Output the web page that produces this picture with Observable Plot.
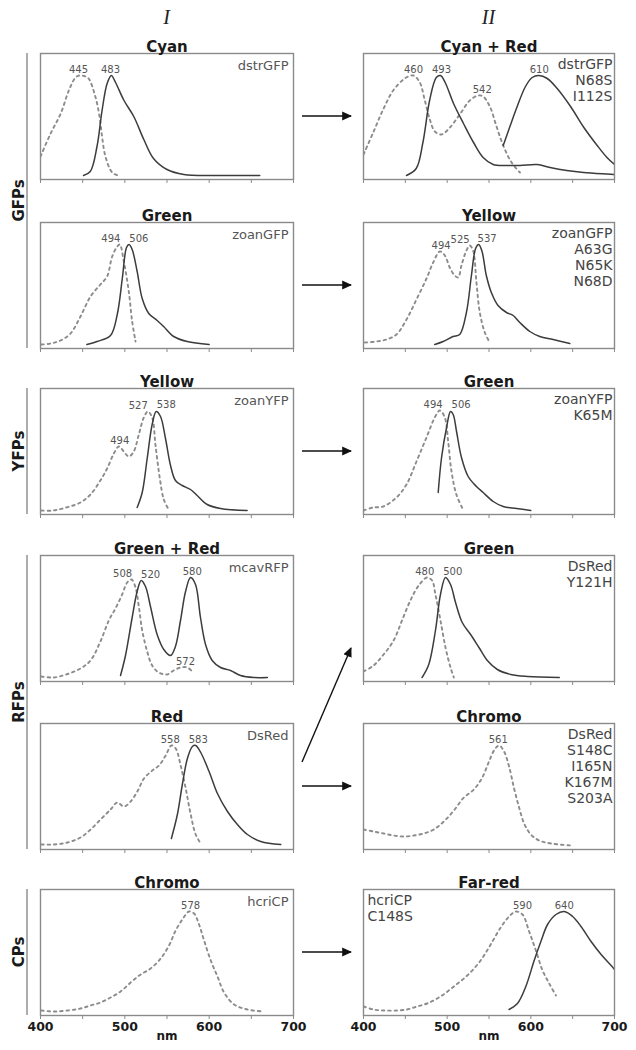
<!DOCTYPE html>
<html><head><meta charset="utf-8">
<script src="https://cdn.jsdelivr.net/npm/d3@7"></script>
<script src="https://cdn.jsdelivr.net/npm/@observablehq/plot@0.6"></script>
<style>
body{margin:0;background:#fff;}
#root{position:relative;width:636px;height:1050px;font-family:"DejaVu Sans",sans-serif;overflow:hidden;}
#root > svg{position:absolute;margin:0;}
</style></head><body><div id="root"></div>
<script>
// ---------- DATA ----------
const columnHeaders = ["I", "II"];
const groupNames = ["GFPs", "YFPs", "RFPs", "CPs"];
const groupRowSpans = [[0, 1], [2, 2], [3, 4], [5, 5]];
const titles = ["Cyan", "Cyan + Red", "Green", "Yellow", "Yellow", "Green",
  "Green + Red", "Green", "Red", "Chromo", "Chromo", "Far-red"];
const proteins = ["dstrGFP", "dstrGFP\nN68S\nI112S", "zoanGFP", "zoanGFP\nA63G\nN65K\nN68D",
  "zoanYFP", "zoanYFP\nK65M", "mcavRFP", "DsRed\nY121H", "DsRed",
  "DsRed\nS148C\nI165N\nK167M\nS203A", "hcriCP", "hcriCP\nC148S"];
const tickValues = [400, 450, 500, 550, 600, 650, 700];
const tickLabels = [400, 500, 600, 700];
const xUnit = "nm";
// arrows: [fromPanel, toPanel]
const arrows = [[0, 1], [2, 3], [4, 5], [8, 7], [8, 9], [10, 11]];

// excitation (dashed) spectra, [nm, normalized]
const exCyan = [[400,.19],[412,.42],[424,.62],[433.6,.85],[441.5,.98],[446,1],[452,.995],[457,.97],[465,.79],[470,.59],[473,.39],[477,.19],[485,.03],[492,0]];
const exCyanRed = [[400,.21],[411.6,.43],[423.5,.66],[435.5,.85],[449.4,.97],[459.4,1],[467.3,.93],[473.3,.75],[479.3,.56],[485.3,.44],[493.3,.41],[503.3,.48],[515,.61],[527,.75],[537,.80],[543,.79],[551,.69],[559,.49],[567,.30],[577,.13],[587,.03]];
const exGreen1 = [[401,0],[412,.01],[423.7,.04],[435.6,.11],[447.4,.28],[459.3,.48],[471,.60],[479,.68],[485,.88],[491,.98],[494,1],[498.8,.83],[504.7,.53],[508.7,.23],[512.7,.03]];
const exYellow1 = [[401.6,.02],[415.5,.03],[427.5,.05],[439.4,.10],[451.4,.25],[463.3,.45],[475.3,.66],[483.3,.82],[491.2,.93],[497.2,.89],[503.1,.77],[509,.69],[513.2,.67],[517.1,.79],[523,.94],[527,.99],[531,.94],[535,.62],[539,.32],[545,.12],[551,.02]];
const exYellow2 = [[401,0],[415,0],[430.5,.03],[447.4,.08],[459.3,.16],[471,.30],[479,.42],[487,.57],[492.9,.64],[498.8,.59],[504.7,.54],[510.6,.59],[516.6,.76],[522.5,.93],[527.3,.99],[532.4,.93],[536.4,.65],[541.5,.32],[546.2,.11],[552,.01]];
const exGreen2 = [[400,0],[411.6,.03],[423.5,.04],[439.4,.13],[451.4,.26],[463.3,.49],[475.3,.73],[485.2,.93],[491.2,1],[497.2,.93],[501.2,.69],[505.2,.39],[511,.16],[519,.01]];
const exGreenRed = [[401,.01],[415,0],[430.5,.03],[447.4,.09],[459.3,.17],[471,.36],[481,.57],[488.9,.69],[496.8,.83],[502.8,.95],[507.9,.98],[512.7,.90],[516.6,.71],[520.6,.47],[526.5,.26],[532.4,.12],[540.3,.05],[550,.03],[558,.07],[566,.10],[574,.10],[580,.06]];
const exGreen3 = [[400,.06],[412,.12],[424,.23],[436,.37],[446,.57],[456,.77],[466,.92],[476,1],[482,.97],[486,.83],[492,.57],[498,.30],[504,.10],[508,0]];
const exRed = [[401,.01],[416,.01],[432,.03],[447.5,.08],[459.4,.16],[471.2,.26],[483.1,.36],[491,.43],[499,.39],[506.9,.44],[514.8,.54],[522.7,.67],[532.6,.75],[540.5,.80],[548.4,.90],[555.2,1],[560.3,.97],[566.2,.80],[572.2,.57],[578.1,.31],[584,.11],[589.2,.03]];
const exChromo1 = [[400,.16],[412,.14],[424,.12],[436,.10],[448,.09],[460,.10],[472,.12],[484,.16],[496,.24],[508,.35],[520,.48],[532,.56],[542,.68],[550,.84],[556,.95],[562,1],[568,.94],[574,.79],[580,.57],[586,.38],[592,.22],[600,.11],[610,.05],[624,.02],[648,0]];
const exChromo2 = [[401,.01],[416,0],[432,.01],[447.5,.03],[459.4,.06],[471.2,.09],[483.1,.14],[495,.20],[506.9,.29],[518.7,.37],[530.6,.43],[542.5,.53],[552.4,.66],[560.3,.81],[568.2,.92],[576.1,1],[582.1,.98],[588,.87],[594,.71],[601.9,.51],[609.8,.35],[617.7,.19],[629.6,.07],[645.4,.02],[665,0]];
const exFarRed = [[400,.05],[412,.02],[424,.01],[440,.01],[452,.02],[464,.05],[476,.08],[492,.15],[508,.25],[524,.36],[540,.51],[552,.67],[564,.84],[574,.95],[582,1],[590,.97],[598,.80],[606,.61],[614,.41],[622,.28],[630,.16]];

// emission (solid) spectra
const emCyan = [[451,0],[459,.04],[467,.29],[473,.65],[479,.92],[484,1],[489,.93],[499,.75],[510.6,.59],[522.5,.36],[534,.17],[550,.06],[570,.01],[609,0],[660,0]];
const emCyanRedA = [[451.4,0],[463,.07],[471,.33],[479,.75],[487,.98],[492,1],[497.6,.93],[507.6,.72],[519.5,.52],[531.5,.33],[543,.18],[555,.11],[571,.10],[587,.10],[607.6,.11],[623,.08],[643,.05],[663,.03],[700,.01]];
const emCyanRedB = [[567,.30],[575,.49],[583.7,.69],[593.6,.89],[601.6,.98],[609.6,1],[619.6,.97],[631.5,.87],[647.5,.69],[663.4,.48],[679.3,.30],[691,.18],[700,.11]];
const emGreen1 = [[455,0],[467,.03],[483,.09],[491,.30],[497,.66],[502,.97],[505,1],[508.7,.95],[514.6,.73],[520.6,.46],[528.4,.31],[538.3,.24],[546,.18],[558,.08],[574,.03],[600,0]];
const emYellow1 = [[485.2,0],[495.2,.03],[507,.08],[515,.10],[523,.32],[529,.69],[534,.96],[537.7,1],[541.7,.93],[546.8,.69],[552.8,.52],[560.8,.39],[570.9,.32],[578.9,.29],[586.8,.22],[598.8,.13],[610.7,.08],[626.7,.05],[646.6,.01]];
const emYellow2 = [[514.6,.03],[520.6,.18],[526.5,.52],[532.4,.86],[537.2,.99],[542.3,.94],[548.2,.72],[554.2,.45],[560,.30],[568,.25],[577.9,.21],[585.8,.15],[597.7,.06],[613.5,.02],[645,0]];
const emGreen2 = [[489.3,.18],[493.3,.53],[499.3,.83],[504,.99],[507.2,.96],[511.2,.79],[517.1,.53],[525.1,.34],[535,.24],[543,.18],[555,.09],[567,.04],[583,.02],[600,0]];
const emGreenRed = [[494.9,.02],[500.8,.22],[508.7,.60],[514.6,.86],[519.4,.97],[524.5,.91],[530.4,.71],[538.3,.43],[546.2,.28],[554.2,.22],[560,.31],[566,.57],[572,.86],[577.9,1],[583.8,.93],[589.7,.60],[595.7,.33],[603.6,.17],[613.5,.10],[625.3,.07],[637.2,.02],[653,0],[669,0]];
const emGreen3 = [[470,0],[478,.13],[486,.47],[492,.83],[498,1],[504,.93],[510,.75],[518,.55],[528,.43],[538,.30],[548,.17],[560,.08],[576,.03],[596,.01],[634,0]];
const emRed = [[555.2,.07],[562.3,.31],[568.2,.61],[574.2,.87],[580.1,.99],[584,1],[590,.93],[599.9,.74],[609.8,.52],[621.7,.34],[633.5,.21],[645.4,.11],[661.2,.04],[685,.01]];
const emFarRed = [[574,.02],[584,.08],[594,.25],[604,.51],[612,.70],[620,.87],[630,.97],[640,1],[650,.95],[660,.85],[672,.70],[684,.57],[696,.46],[700,.42]];

// peak labels [nm, height]
const pkCyan = [[445,1],[483,1]];
const pkCyanRed = [[460,1],[493,1],[542,.80],[610,1]];
const pkGreen1 = [[494,1],[506,1]];
const pkYellow1 = [[494,.93],[525,.99],[537,1]];
const pkYellow2 = [[494,.64],[527,.99],[538,1]];
const pkGreen2 = [[494,1],[506,1]];
const pkGreenRed = [[508,.98],[520,.97],[580,1],[572,.10]];
const pkGreen3 = [[480,1],[500,1]];
const pkRed = [[558,1],[583,1]];
const pkChromo1 = [[561,1]];
const pkChromo2 = [[578,1]];
const pkFarRed = [[590,1],[640,1]];

const excitation = [[exCyan],[exCyanRed],[exGreen1],[exYellow1],[exYellow2],[exGreen2],[exGreenRed],[exGreen3],[exRed],[exChromo1],[exChromo2],[exFarRed]];
const emission = [[emCyan],[emCyanRedA, emCyanRedB],[emGreen1],[emYellow1],[emYellow2],[emGreen2],[emGreenRed],[emGreen3],[emRed],[],[],[emFarRed]];
const peaks = [pkCyan,pkCyanRed,pkGreen1,pkYellow1,pkYellow2,pkGreen2,pkGreenRed,pkGreen3,pkRed,pkChromo1,pkChromo2,pkFarRed];

// ---------- LAYOUT ----------
const root = document.getElementById("root");
const rowTops = [53, 222, 388, 555, 723, 889];
const frameH = 126;
const colX = [0, 318];
const colMargins = [[40, 25], [45, 22]];
const frameLeft = [40, 363], frameRight = [293, 614];
const FONT = "DejaVu Sans";

function panel(i) {
  const col = i % 2, row = Math.floor(i / 2);
  const bottom = row === 5;
  const marginTop = 26, marginBottom = bottom ? 36 : 8;
  const [mL, mR] = colMargins[col];
  const pxPerNm = (frameRight[col] - frameLeft[col]) / 300;
  const marks = [];
  for (const ex of excitation[i]) {
    marks.push(Plot.line(ex, {x: d => d[0], y: d => d[1], curve: "catmull-rom", stroke: "#8c8c8c",
      strokeWidth: 1.9, strokeDasharray: "2.5,3.8", strokeLinecap: "round", clip: true}));
  }
  for (const em of emission[i]) {
    marks.push(Plot.line(em, {x: d => d[0], y: d => d[1], curve: "catmull-rom", stroke: "#3c3c3c",
      strokeWidth: 1.5, clip: true}));
  }
  marks.push(Plot.frame({stroke: "#8a8a8a", strokeWidth: 1.4}));
  marks.push(Plot.axisX({ticks: tickValues, tickSize: 4, tickPadding: 3,
    tickFormat: bottom ? (d => tickLabels.includes(d) ? String(d) : "") : (() => ""),
    stroke: "#8a8a8a", fill: "#1a1a1a", fontSize: 12.5, fontWeight: "bold", label: null}));
  if (bottom) marks.push(Plot.text([xUnit], {frameAnchor: "bottom", dy: 24, text: d => d,
    fontSize: 12, fontWeight: "bold", fill: "#1a1a1a"}));
  marks.push(Plot.text([titles[i]], {frameAnchor: "top", dy: -2, lineAnchor: "bottom", text: d => d,
    fontSize: 15, fontWeight: "bold", fill: "#1a1a1a"}));
  const leftLabel = i === 11;
  marks.push(Plot.text([proteins[i]], {frameAnchor: leftLabel ? "top-left" : "top-right",
    textAnchor: leftLabel ? "start" : "end", lineAnchor: "top", text: d => d,
    dx: leftLabel ? 4 : (col ? -2 : -5), dy: col ? 4 : 6, fontSize: col ? 14 : 13, lineHeight: 1.15,
    fill: col ? "#454545" : "#555"}));
  // peak labels, nudged apart when they would collide
  const pk = peaks[i];
  pk.forEach((p, k) => {
    let dx = 0;
    for (const q of pk) {
      if (q === p || Math.abs(q[1] - p[1]) > 0.3) continue;
      const gap = Math.abs(q[0] - p[0]) * pxPerNm;
      if (gap < 28) dx += Math.sign(p[0] - q[0]) * (28 - gap) / 2;
    }
    marks.push(Plot.text([p], {x: d => d[0], y: d => d[1], text: d => String(d[0]), dx, dy: -3,
      lineAnchor: "bottom", fontSize: 10, fill: "#555"}));
  });
  const svg = Plot.plot({
    width: 318, height: marginTop + frameH + marginBottom,
    marginTop, marginBottom, marginLeft: mL, marginRight: mR,
    x: {domain: [400, 700]}, y: {domain: [-0.04, 1.22], axis: null},
    style: {fontFamily: FONT, background: "transparent", overflow: "visible"},
    marks
  });
  svg.style.left = colX[col] + "px";
  svg.style.top = (rowTops[row] - marginTop) + "px";
  root.appendChild(svg);
}
for (let i = 0; i < titles.length; i++) panel(i);

// ---------- DECORATIONS ----------
const ov = d3.select(root).append("svg").attr("width", 636).attr("height", 1050)
  .style("left", "0px").style("top", "0px").style("pointer-events", "none");
const defs = ov.append("defs");
defs.append("marker").attr("id", "ah").attr("viewBox", "0 0 10 10").attr("refX", 9).attr("refY", 5)
  .attr("markerWidth", 7).attr("markerHeight", 7).attr("orient", "auto")
  .append("path").attr("d", "M0,0.5L10,5L0,9.5Z").attr("fill", "#111");

// column headers
columnHeaders.forEach((h, c) => {
  ov.append("text").attr("x", (frameLeft[c] + frameRight[c]) / 2).attr("y", 24)
    .attr("text-anchor", "middle").attr("font-family", "Liberation Serif, DejaVu Serif, serif")
    .attr("font-style", "italic").attr("font-size", 20).attr("fill", "#222").text(h);
});
// group labels + brackets
groupNames.forEach((g, k) => {
  const [r0, r1] = groupRowSpans[k];
  const y0 = rowTops[r0], y1 = rowTops[r1] + frameH;
  ov.append("line").attr("x1", 27).attr("x2", 27).attr("y1", y0).attr("y2", y1)
    .attr("stroke", "#8a8a8a").attr("stroke-width", 1.4);
  ov.append("text").attr("transform", `translate(19,${(y0 + y1) / 2}) rotate(-90)`)
    .attr("text-anchor", "middle").attr("dominant-baseline", "central")
    .attr("font-family", FONT).attr("font-weight", "bold").attr("font-size", 15).attr("fill", "#1a1a1a").text(g);
});
// arrows
arrows.forEach(([a, b]) => {
  const ra = Math.floor(a / 2), rb = Math.floor(b / 2);
  const x1 = 302, x2 = 351;
  let y1, y2;
  if (ra === rb) { y1 = y2 = rowTops[ra] + frameH / 2; }
  else { y1 = rowTops[ra] + 39; y2 = rowTops[rb] + frameH - 33; }
  ov.append("line").attr("x1", x1).attr("y1", y1).attr("x2", x2).attr("y2", y2)
    .attr("stroke", "#111").attr("stroke-width", 1.4).attr("marker-end", "url(#ah)");
});
</script></body></html>
